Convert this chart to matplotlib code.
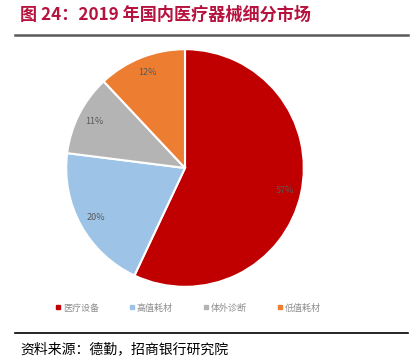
import matplotlib
matplotlib.use('Agg')
import matplotlib.pyplot as plt
from matplotlib.lines import Line2D

plt.rcParams['font.family'] = ['Noto Sans CJK SC', 'DejaVu Sans']

categories = ['医疗设备', '高值耗材', '体外诊断', '低值耗材']
shares = [57, 20, 11, 12]
colors = ['#C00000', '#9DC3E6', '#B4B4B4', '#ED7D31']

W, H = 415, 364
fig = plt.figure(figsize=(W / 100, H / 100), dpi=100)

# pie: center (185,168) px, radius 120 px
cx, cy, r = 185, 168, 120
ax = fig.add_axes([(cx - r) / W, (H - cy - r) / H, 2 * r / W, 2 * r / H])
wedges, texts, autotexts = ax.pie(
    shares, colors=colors, startangle=90, counterclock=False,
    autopct='%d%%', pctdistance=0.86,
    wedgeprops=dict(edgecolor='white', linewidth=1.5),
    textprops=dict(color='#595959', fontsize=6.5))
ax.set_xlim(-1.01, 1.01)
ax.set_ylim(-1.01, 1.01)
ax.set_aspect('equal')

# title
fig.text(20 / W, 1 - 15 / H, '图 24：2019 年国内医疗器械细分市场',
         color='#B5123E', fontsize=12.3, fontweight='bold', va='center', ha='left')
fig.add_artist(Line2D([15 / W, 408 / W], [1 - 35 / H, 1 - 35 / H],
                      color='#595959', linewidth=1.8))

# legend
handles = [Line2D([], [], marker='s', linestyle='', color=c, markersize=3)
           for c in colors]
fig.legend(handles, categories, loc='center', bbox_to_anchor=(0.452, 1 - 308 / H),
           ncol=4, frameon=False, fontsize=6.5, labelcolor='#8C8C8C',
           handletextpad=0.1, columnspacing=3.3, handlelength=0.8)

fig.add_artist(Line2D([15 / W, 408 / W], [1 - 333 / H, 1 - 333 / H],
                      color='black', linewidth=1.2))
fig.text(20 / W, 1 - 349 / H, '资料来源：德勤，招商银行研究院',
         color='black', fontsize=10, va='center', ha='left')

fig.savefig('out.png', dpi=100)
